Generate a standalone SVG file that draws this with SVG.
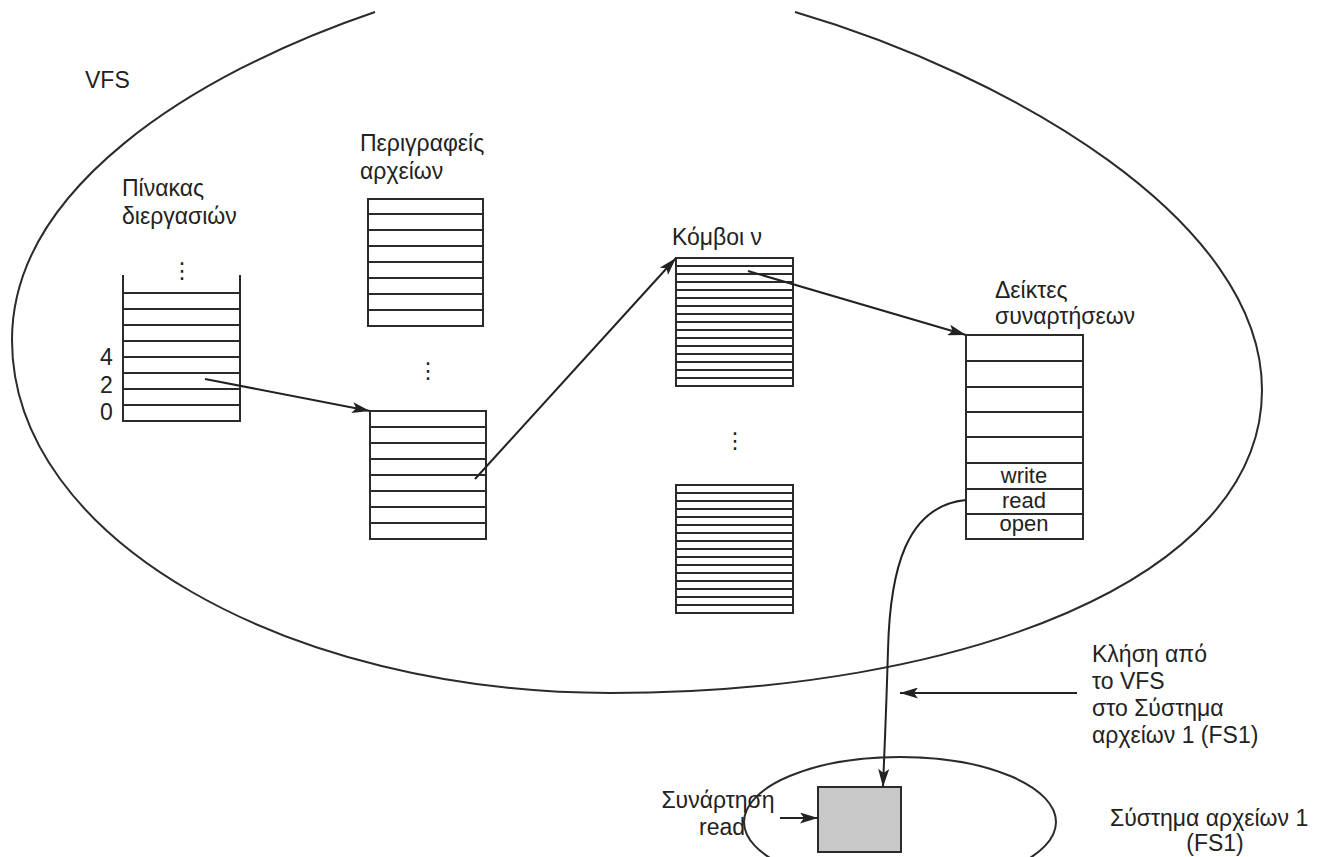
<svg xmlns="http://www.w3.org/2000/svg" width="1336" height="857" viewBox="0 0 1336 857">
<style>
.t{font-family:"Liberation Sans",Arial,"Noto Sans",sans-serif;font-size:23px;fill:#222}
.s{font-size:22px}
.c{text-anchor:middle}
.d{font-family:"DejaVu Sans",sans-serif;font-size:22px;fill:#222;text-anchor:middle}
.ln{stroke:#2b2b2b;stroke-width:2;fill:none}
.tb{stroke:#2b2b2b;stroke-width:2;fill:#fff}
.ar{stroke:#222;stroke-width:2;fill:none;marker-end:url(#ah)}
</style>
<defs>
<marker id="ah" viewBox="0 0 18 11" refX="18" refY="5.5" markerWidth="18" markerHeight="11" markerUnits="userSpaceOnUse" orient="auto">
<path d="M0,0 L18,5.5 L0,11 L4,5.5 z" fill="#222"/>
</marker>
</defs>
<rect width="1336" height="857" fill="#fff"/>

<g id="vfs">
<path class="ln" d="M375,12 C190,75 12,190 12,340 C12,540 290,693 610,693 C960,693 1262,580 1262,390 C1262,220 1010,75 795,12"/>
<text class="t" x="85" y="88">VFS</text>
</g>

<g id="process-table">
<text class="t" x="122" y="196">Πίνακας</text>
<text class="t" x="122" y="224">διεργασιών</text>
<text class="d" x="182" y="278">⋮</text>
<path class="ln" d="M123,275 V421 H240 V275 M123,293 H240 M123,309 H240 M123,325 H240 M123,341 H240 M123,357 H240 M123,373 H240 M123,389 H240 M123,405 H240"/>
<text class="t" x="100" y="365">4</text>
<text class="t" x="100" y="393">2</text>
<text class="t" x="100" y="420">0</text>
</g>

<g id="file-descriptors">
<text class="t" x="360" y="151">Περιγραφείς</text>
<text class="t" x="360" y="179">αρχείων</text>
<rect class="tb" x="368" y="199" width="115" height="127"/>
<path class="ln" d="M368,214 H483 M368,230 H483 M368,246 H483 M368,262 H483 M368,278 H483 M368,294 H483 M368,310 H483"/>
<text class="d" x="428" y="378">⋮</text>
<rect class="tb" x="370" y="411" width="116" height="128"/>
<path class="ln" d="M370,427 H486 M370,443 H486 M370,459 H486 M370,475 H486 M370,491 H486 M370,507 H486 M370,523 H486"/>
</g>

<g id="vnodes">
<text class="t" x="672" y="245">Κόμβοι ν</text>
<rect class="tb" x="676" y="258" width="117" height="128"/>
<path class="ln" d="M676,266 H793 M676,274 H793 M676,282 H793 M676,290 H793 M676,298 H793 M676,306 H793 M676,314 H793 M676,322 H793 M676,330 H793 M676,338 H793 M676,346 H793 M676,354 H793 M676,362 H793 M676,370 H793 M676,378 H793"/>
<text class="d" x="735" y="448">⋮</text>
<rect class="tb" x="676" y="485" width="117" height="128"/>
<path class="ln" d="M676,493 H793 M676,501 H793 M676,509 H793 M676,517 H793 M676,525 H793 M676,533 H793 M676,541 H793 M676,549 H793 M676,557 H793 M676,565 H793 M676,573 H793 M676,581 H793 M676,589 H793 M676,597 H793 M676,605 H793"/>
</g>

<g id="function-pointers">
<text class="t" x="995" y="298">Δείκτες</text>
<text class="t" x="995" y="324">συναρτήσεων</text>
<rect class="tb" x="966" y="335" width="117" height="204"/>
<path class="ln" d="M966,361 H1083 M966,387 H1083 M966,412 H1083 M966,437 H1083 M966,463 H1083 M966,489 H1083 M966,514 H1083"/>
<text class="t s c" x="1024" y="483">write</text>
<text class="t s c" x="1024" y="508">read</text>
<text class="t s c" x="1024" y="531">open</text>
</g>

<g id="fs1">
<ellipse cx="900" cy="822" rx="156" ry="65" class="ln"/>
<rect x="818" y="787" width="83" height="65" fill="#c8c8c8" stroke="#2b2b2b" stroke-width="2"/>
<text class="t" x="1110" y="826">Σύστημα αρχείων 1</text>
<text class="t c" x="1215" y="851">(FS1)</text>
</g>

<g id="labels">
<text class="t" x="1092" y="662">Κλήση από</text>
<text class="t" x="1092" y="689">το VFS</text>
<text class="t" x="1092" y="716">στο Σύστημα</text>
<text class="t" x="1092" y="743">αρχείων 1 (FS1)</text>
<text class="t c" x="718" y="808">Συνάρτηση</text>
<text class="t c" x="722" y="835">read</text>
</g>

<g id="connectors">
<path class="ar" d="M205,379 L370,411"/>
<path class="ar" d="M475,479 L676,258"/>
<path class="ar" d="M748,271 L966,335"/>
<path class="ar" d="M966,500 C906,506 890,570 888,650 C886,720 884,760 883,787"/>
<path class="ar" d="M1077,693 L900,693"/>
<path class="ar" d="M780,818 L818,818"/>
</g>
</svg>
